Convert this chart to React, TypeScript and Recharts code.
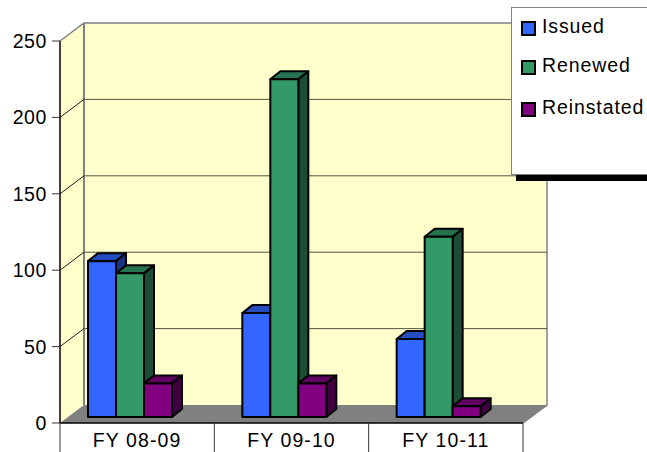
import React from 'react';
import { BarChart, Bar, XAxis, YAxis, CartesianGrid, Legend, usePlotArea } from 'recharts';

const CATEGORIES = ['FY 08-09', 'FY 09-10', 'FY 10-11'];
const ISSUED = [102, 68, 51];
const RENEWED = [94, 221, 118];
const REINSTATED = [22, 22, 7];
const Y_TICKS = [0, 50, 100, 150, 200, 250];

const data = CATEGORIES.map((name, i) => ({
  name,
  Issued: ISSUED[i],
  Renewed: RENEWED[i],
  Reinstated: REINSTATED[i],
}));

const FONT = '"Liberation Sans", Arial, sans-serif';
const DEPTH_X = 24;
const DEPTH_Y = 18;
const WALL_LINE = '#808080';

// top and side shades of the 3d bars
const SHADES: Record<string, { top: string; side: string }> = {
  '#3366ff': { top: '#264dbf', side: '#1a3380' },
  '#339966': { top: '#267350', side: '#1a4d33' },
  '#800080': { top: '#600060', side: '#400040' },
};

function Walls() {
  const plot = usePlotArea();
  if (!plot) return null;
  const l = plot.x;
  const r = plot.x + plot.width;
  const t = plot.y;
  const b = plot.y + plot.height;
  const pts = (list: number[][]) => list.map((p) => p.join(',')).join(' ');
  return (
    <g>
      <polygon
        points={pts([[l, t], [l + DEPTH_X, t - DEPTH_Y], [l + DEPTH_X, b - DEPTH_Y], [l, b]])}
        fill="#ffffcc"
      />
      <rect x={l + DEPTH_X} y={t - DEPTH_Y} width={r - l} height={b - t} fill="#ffffcc" />
      <polygon
        points={pts([[l, b], [r, b], [r + DEPTH_X, b - DEPTH_Y], [l + DEPTH_X, b - DEPTH_Y]])}
        fill={WALL_LINE}
      />
      <polyline
        points={pts([[l, t], [l + DEPTH_X, t - DEPTH_Y], [r + DEPTH_X, t - DEPTH_Y], [r + DEPTH_X, b - DEPTH_Y], [r, b]])}
        fill="none"
        stroke={WALL_LINE}
        strokeWidth={1.5}
      />
      <line x1={l + DEPTH_X} y1={t - DEPTH_Y} x2={l + DEPTH_X} y2={b - DEPTH_Y} stroke={WALL_LINE} strokeWidth={2} />
    </g>
  );
}

function GridLine({ x1, x2, y1, index }: any) {
  // the grid is drawn under the bars, so the walls go in with its first line
  const edge = index === 0 || index === Y_TICKS.length - 1;
  return (
    <g>
      {index === 0 && <Walls />}
      {!edge && (
        <>
          <line x1={x1} y1={y1} x2={x1 + DEPTH_X} y2={y1 - DEPTH_Y} stroke="#1a1a1a" strokeWidth={1} />
          <line x1={x1 + DEPTH_X} y1={y1 - DEPTH_Y} x2={x2 + DEPTH_X} y2={y1 - DEPTH_Y} stroke="#555544" strokeWidth={1} />
        </>
      )}
    </g>
  );
}

function Bar3D({ x, y, width, height, fill }: any) {
  // bars stand in the middle of the floor, not on the front edge
  const px = x - 7;
  const py = y - 6;
  const dx = 10;
  const dy = 8;
  const shade = SHADES[fill];
  const edge = { stroke: '#000', strokeWidth: 2, strokeLinejoin: 'round' as const };
  return (
    <g>
      <polygon
        points={`${px},${py} ${px + dx},${py - dy} ${px + width + dx},${py - dy} ${px + width},${py}`}
        fill={shade.top}
        {...edge}
      />
      <polygon
        points={`${px + width},${py} ${px + width + dx},${py - dy} ${px + width + dx},${py + height - dy} ${px + width},${py + height}`}
        fill={shade.side}
        {...edge}
      />
      <rect x={px} y={py} width={width} height={height} fill={fill} {...edge} />
    </g>
  );
}

function CategoryTick({ x, payload, index }: any) {
  const band = 463 / CATEGORIES.length;
  const base = 423;
  return (
    <g>
      <line x1={x - band / 2} y1={base} x2={x - band / 2} y2={452} stroke="#333" strokeWidth={1} />
      {index === CATEGORIES.length - 1 && (
        <line x1={x + band / 2} y1={base} x2={x + band / 2} y2={452} stroke="#333" strokeWidth={1} />
      )}
      <text x={x} y={base + 24} textAnchor="middle" fontFamily={FONT} fontSize={19.5} letterSpacing={1.1} fill="#000">
        {payload.value}
      </text>
    </g>
  );
}

const LEGEND_ROWS = [18, 57, 99];

function ChartLegend({ payload }: any) {
  return (
    <div
      style={{
        position: 'relative',
        width: 136,
        height: 168,
        background: '#fff',
        border: '1px solid #808080',
        borderRight: 'none',
        boxSizing: 'border-box',
        boxShadow: '5px 6px 0 #000',
        fontFamily: FONT,
        fontSize: 19.5,
      }}
    >
      {(payload || []).map((entry: any, i: number) => (
        <div key={entry.value}>
          <span
            style={{
              position: 'absolute',
              left: 9,
              top: LEGEND_ROWS[i] - 5,
              width: 15,
              height: 15,
              boxSizing: 'border-box',
              background: entry.color,
              border: '2px solid #000',
            }}
          />
          <span
            style={{
              position: 'absolute',
              left: 30,
              top: LEGEND_ROWS[i] - 11,
              lineHeight: '22px',
              letterSpacing: 0.9,
              color: '#000',
              whiteSpace: 'nowrap',
            }}
          >
            {entry.value}
          </span>
        </div>
      ))}
    </div>
  );
}

export default function App() {
  return (
    <div style={{ position: 'absolute', left: 0, top: 0, width: 647, height: 452, overflow: 'hidden', background: '#fff' }}>
      <BarChart
        width={647}
        height={452}
        data={data}
        margin={{ top: 41, right: 124, bottom: 0, left: 0 }}
        barSize={28}
        barGap={0}
      >
        <CartesianGrid vertical={false} horizontal={(props: any) => <GridLine {...props} />} />
        <XAxis
          dataKey="name"
          height={29}
          tickLine={false}
          axisLine={{ stroke: '#000', strokeWidth: 1.5 }}
          tick={(props: any) => <CategoryTick {...props} />}
          interval={0}
        />
        <YAxis
          width={60}
          domain={[0, 250]}
          ticks={Y_TICKS}
          tickSize={8}
          tickMargin={5}
          axisLine={{ stroke: '#000', strokeWidth: 1.5 }}
          tickLine={{ stroke: '#333' }}
          tick={{ fontFamily: FONT, fontSize: 19.5, letterSpacing: 0.6, fill: '#000' }}
        />
        <Bar dataKey="Issued" fill="#3366ff" isAnimationActive={false} shape={(p: any) => <Bar3D {...p} />} />
        <Bar dataKey="Renewed" fill="#339966" isAnimationActive={false} shape={(p: any) => <Bar3D {...p} />} />
        <Bar dataKey="Reinstated" fill="#800080" isAnimationActive={false} shape={(p: any) => <Bar3D {...p} />} />
        <Legend
          layout="vertical"
          align="center"
          verticalAlign="middle"
          itemSorter={null}
          wrapperStyle={{ left: 511, top: 7, width: 136, height: 168 }}
          content={(props: any) => <ChartLegend {...props} />}
        />
      </BarChart>
    </div>
  );
}
